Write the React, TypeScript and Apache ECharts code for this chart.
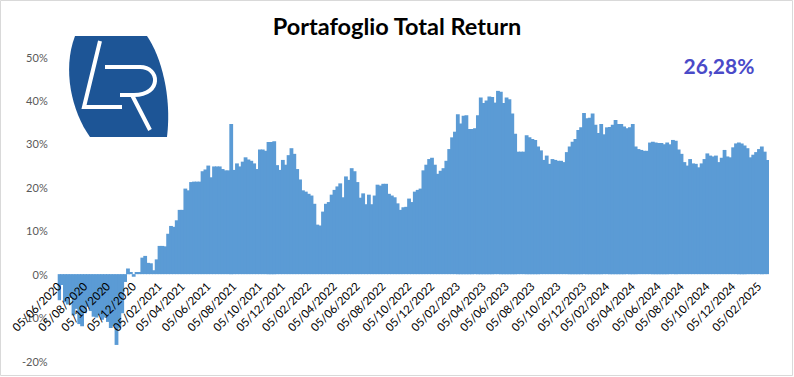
import React, { useEffect, useRef } from "react";
import * as echarts from "echarts";

const TITLE = "Portafoglio Total Return";
const LAST_VALUE_LABEL = "26,28%";
const START_DATE = "05/06/2020";

const tickLabels = [
  "05/06/2020", "05/08/2020", "05/10/2020", "05/12/2020",
  "05/02/2021", "05/04/2021", "05/06/2021", "05/08/2021", "05/10/2021", "05/12/2021",
  "05/02/2022", "05/04/2022", "05/06/2022", "05/08/2022", "05/10/2022", "05/12/2022",
  "05/02/2023", "05/04/2023", "05/06/2023", "05/08/2023", "05/10/2023", "05/12/2023",
  "05/02/2024", "05/04/2024", "05/06/2024", "05/08/2024", "05/10/2024", "05/12/2024",
  "05/02/2025",
];

// weekly total return (%)
const returns2020 = [
  -6.0, -2.5, -6.5, -7.0, -5.5, -9.5, -8.0, -11.5, -12.0, -9.0, -7.5, -8.5,
  -9.8, -10.0, -9.5, -10.5, -10.0, -11.0, -12.4, -12.0, -16.3, -12.5, -9.0, -1.8,
  1.3, 0.5, -0.6, 0.5, 0.5, 3.8, 4.2, 2.6, 2.5, 0.9, 3.4, 6.5,
];
const returns2021 = [
  6.5, 6.4, 9.3, 11.1, 10.9, 12.4, 14.8, 14.8, 19.7, 19.3, 21.2, 21.3,
  21.3, 21.3, 23.7, 24.1, 25.0, 22.3, 24.8, 24.8, 24.8, 24.2, 23.9, 23.9,
  34.6, 24.0, 25.5, 24.8, 25.9, 26.9, 26.4, 26.1, 25.5, 24.2, 28.7, 28.7,
  28.4, 30.4, 30.4, 30.6, 25.1, 24.0, 26.3, 25.2, 27.4, 29.0, 27.7, 24.2,
];
const returns2022 = [
  21.8, 19.3, 19.0, 18.5, 18.1, 16.2, 11.4, 11.2, 14.4, 16.2, 16.6, 18.3,
  19.4, 20.2, 20.9, 17.7, 22.5, 21.7, 24.4, 23.7, 21.2, 17.6, 18.6, 16.1,
  18.3, 16.1, 18.1, 20.6, 20.4, 20.8, 20.8, 18.5, 18.1, 17.7, 16.3, 14.8,
  15.4, 15.5, 17.4, 16.6, 19.0, 19.4, 19.7, 23.9, 25.2, 26.5, 26.8, 25.2,
];
const returns2023 = [
  23.1, 23.8, 24.4, 26.1, 28.8, 31.5, 32.8, 36.8, 34.7, 36.5, 36.6, 33.4,
  33.4, 33.6, 36.6, 40.7, 39.4, 40.0, 40.9, 40.8, 39.5, 42.2, 42.0, 39.4,
  40.7, 40.3, 37.0, 32.3, 28.2, 28.2, 28.2, 32.0, 31.5, 31.1, 30.9, 29.4,
  28.5, 26.3, 27.3, 25.4, 26.5, 26.3, 26.1, 26.1, 25.8, 28.1, 29.4, 30.5,
  31.1, 33.2, 33.8,
];
const returns2024 = [
  37.1, 35.9, 36.0, 37.0, 34.4, 32.5, 34.6, 32.2, 33.8, 33.9, 34.4, 35.5,
  34.6, 34.6, 34.0, 33.6, 33.8, 34.6, 29.4, 28.8, 28.6, 28.4, 28.4, 30.3,
  30.5, 30.3, 30.2, 30.2, 29.9, 30.3, 29.9, 30.9, 30.7, 28.7, 27.7, 25.8,
  25.0, 26.5, 25.5, 25.4, 24.6, 25.5, 26.5, 27.8, 27.3, 27.1, 27.3, 25.8,
  26.8, 28.6, 27.1, 26.9, 29.2, 30.1, 30.3,
];
const returns2025 = [
  30.1, 29.6, 29.0, 26.9, 27.5, 28.1, 28.8, 29.4, 28.2, 26.28,
];

const returns = [
  ...returns2020, ...returns2021, ...returns2022,
  ...returns2023, ...returns2024, ...returns2025,
];

const DAY = 86400000;
function parseDMY(s: string) {
  const [d, m, y] = s.split("/").map(Number);
  return Date.UTC(y, m - 1, d);
}
function fmtDMY(t: number) {
  const dt = new Date(t);
  const p = (n: number) => String(n).padStart(2, "0");
  return `${p(dt.getUTCDate())}/${p(dt.getUTCMonth() + 1)}/${dt.getUTCFullYear()}`;
}

const start = parseDMY(START_DATE);
const weeks = returns.map((_, i) => fmtDMY(start + i * 7 * DAY));
const tickAt = new Map<number, string>();
tickLabels.forEach((lab) => {
  tickAt.set(Math.round((parseDMY(lab) - start) / (7 * DAY)), lab);
});

const LOGO_D =
  "M75 36 L147 36 C161 56 172 96 167 137 L90 137 C72 112 62 70 75 36 Z";
const LETTERS_D =
  "M100 41 L84 107 L122 107 M105 67 L140 67 C160 67 162 95 134 95 L120 95 M132 95 L150 130";

echarts.graphic.registerShape("logo", echarts.graphic.extendPath(LOGO_D, {}));
echarts.graphic.registerShape("letters", echarts.graphic.extendPath(LETTERS_D, {}));

export default function App() {
  const ref = useRef<HTMLDivElement>(null);
  useEffect(() => {
    document.body.style.margin = "0";
    const chart = echarts.init(ref.current!, undefined, { renderer: "svg" });
    const font = "Lato, 'Open Sans', sans-serif";
    chart.setOption({
      animation: false,
      backgroundColor: "#ffffff",
      title: {
        text: TITLE,
        left: "center",
        top: 9,
        textStyle: { fontFamily: font, fontWeight: "bold", fontSize: 23.5, color: "#000" },
      },
      grid: {
        left: 57.7,
        right: 25,
        top: 57,
        bottom: 16,
        containLabel: false,
        outerBoundsMode: "none",
      },
      xAxis: {
        type: "category",
        data: weeks,
        boundaryGap: true,
        offset: -87,
        z: 5,
        axisLine: { show: false, onZero: false },
        axisTick: { show: false },
        splitLine: { show: false },
        axisLabel: {
          rotate: 45,
          margin: 10,
          interval: (idx: number) => tickAt.has(idx),
          formatter: (_v: string, idx: number) => tickAt.get(idx) ?? "",
          fontFamily: font,
          fontSize: 11.5,
          color: "#000",
        },
      },
      yAxis: {
        type: "value",
        min: -20,
        max: 50,
        interval: 10,
        z: 5,
        axisLine: { show: false },
        axisTick: { show: false },
        splitLine: { show: false },
        axisLabel: {
          formatter: (v: number) => `${v}%`,
          margin: 10,
          fontFamily: font,
          fontSize: 11,
          color: "#595959",
        },
      },
      series: [
        {
          type: "bar",
          data: returns,
          barWidth: 3.8,
          barGap: "0%",
          z: 1,
          itemStyle: { color: "#5b9bd5" },
          emphasis: { disabled: true },
        },
      ],
      graphic: [
        {
          type: "rect",
          shape: { x: 0.5, y: 0.5, width: 792, height: 375 },
          style: { fill: "none", stroke: "#d9d9d9", lineWidth: 1 },
          silent: true,
        },
        { type: "logo", x: 0, y: 0, style: { fill: "#1d5596" }, silent: true },
        {
          type: "letters",
          x: 0,
          y: 0,
          style: { fill: "none", stroke: "#ffffff", lineWidth: 4, lineJoin: "miter" },
          silent: true,
        },
        {
          type: "text",
          x: 719,
          y: 65,
          style: {
            text: LAST_VALUE_LABEL,
            fill: "#4a4ac8",
            font: `bold 21px ${font}`,
            align: "center",
            verticalAlign: "middle",
          },
          silent: true,
        },
      ],
    });
    return () => chart.dispose();
  }, []);
  return <div ref={ref} style={{ width: 794, height: 377 }} />;
}
